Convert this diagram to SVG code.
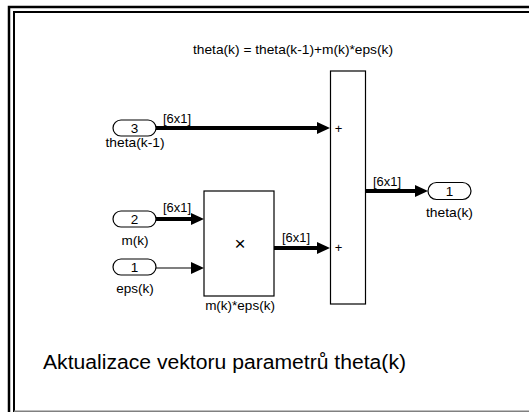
<svg xmlns="http://www.w3.org/2000/svg" width="529" height="412" viewBox="0 0 529 412">
<style>
  text { font-family: "Liberation Sans", Arial, sans-serif; fill: #000; }
  .lbl { font-size: 13.5px; }
  .mid { text-anchor: middle; }
  .op { font-size: 19px; }
  .pl { font-size: 13px; }
  .cap { font-size: 20px; }
  .blk { fill: #fff; stroke: #000; stroke-width: 1.2; }
  .port { fill: #fff; stroke: #000; stroke-width: 1.2; }
  .bus { stroke: #000; stroke-width: 4; fill: none; }
  .sig { stroke: #000; stroke-width: 1.2; fill: none; }
  .frame { stroke: #000; fill: none; }
</style>
<defs>
  <marker id="ah" viewBox="0 0 13 12" refX="5" refY="6" markerWidth="13" markerHeight="12" markerUnits="userSpaceOnUse" orient="auto">
    <path d="M0,0 L13,6 L0,12 z" fill="#000"/>
  </marker>
</defs>
<rect width="529" height="412" fill="#fff"/>
<g id="frame">
  <path class="frame" stroke-width="2.5" d="M9,412 V7 H529"/>
  <path class="frame" stroke-width="2" d="M14,412 V12 H529"/>
  <line x1="14" y1="411.3" x2="529" y2="411.3" stroke="#808080" stroke-width="1.5"/>
</g>
<text id="title" class="lbl mid" x="293" y="54" textLength="200" lengthAdjust="spacingAndGlyphs">theta(k) = theta(k-1)+m(k)*eps(k)</text>
<g id="connectors">
  <line class="bus" x1="156" y1="128" x2="322" y2="128" marker-end="url(#ah)"/>
  <line class="bus" x1="156" y1="219" x2="196" y2="219" marker-end="url(#ah)"/>
  <line class="sig" x1="156" y1="268" x2="196" y2="268" marker-end="url(#ah)"/>
  <line class="bus" x1="274" y1="248" x2="322" y2="248" marker-end="url(#ah)"/>
  <line class="bus" x1="365" y1="191" x2="420" y2="191" marker-end="url(#ah)"/>
  <text class="lbl" x="163" y="122.5" textLength="28" lengthAdjust="spacingAndGlyphs">[6x1]</text>
  <text class="lbl" x="163" y="212" textLength="28" lengthAdjust="spacingAndGlyphs">[6x1]</text>
  <text class="lbl" x="282" y="241.5" textLength="28" lengthAdjust="spacingAndGlyphs">[6x1]</text>
  <text class="lbl" x="373" y="185.5" textLength="28" lengthAdjust="spacingAndGlyphs">[6x1]</text>
</g>
<g id="in3">
  <rect class="port" x="113" y="120" width="43" height="16" rx="8"/>
  <text class="lbl mid" x="134.5" y="133">3</text>
  <text class="lbl mid" x="135" y="146.5" textLength="59" lengthAdjust="spacingAndGlyphs">theta(k-1)</text>
</g>
<g id="in2">
  <rect class="port" x="113" y="211" width="43" height="16" rx="8"/>
  <text class="lbl mid" x="134.5" y="224">2</text>
  <text class="lbl mid" x="135" y="245">m(k)</text>
</g>
<g id="in1">
  <rect class="port" x="113" y="259" width="43" height="16" rx="8"/>
  <text class="lbl mid" x="134.5" y="272">1</text>
  <text class="lbl mid" x="135" y="292.5">eps(k)</text>
</g>
<g id="product">
  <rect class="blk" x="204" y="191" width="70" height="105"/>
  <text class="op mid" x="240" y="249.5">×</text>
  <text class="lbl mid" x="240" y="309.5">m(k)*eps(k)</text>
</g>
<g id="sum">
  <rect class="blk" x="330.5" y="71" width="35" height="233"/>
  <text class="pl mid" x="338.5" y="132.5">+</text>
  <text class="pl mid" x="338.5" y="252">+</text>
</g>
<g id="out1">
  <rect class="port" x="428" y="182.5" width="43" height="17" rx="8.5"/>
  <text class="lbl mid" x="449.5" y="196">1</text>
  <text class="lbl mid" x="449.5" y="217" textLength="47" lengthAdjust="spacingAndGlyphs">theta(k)</text>
</g>
<text id="caption" class="cap" x="43" y="368.5" textLength="363" lengthAdjust="spacingAndGlyphs">Aktualizace vektoru parametrů theta(k)</text>
</svg>
